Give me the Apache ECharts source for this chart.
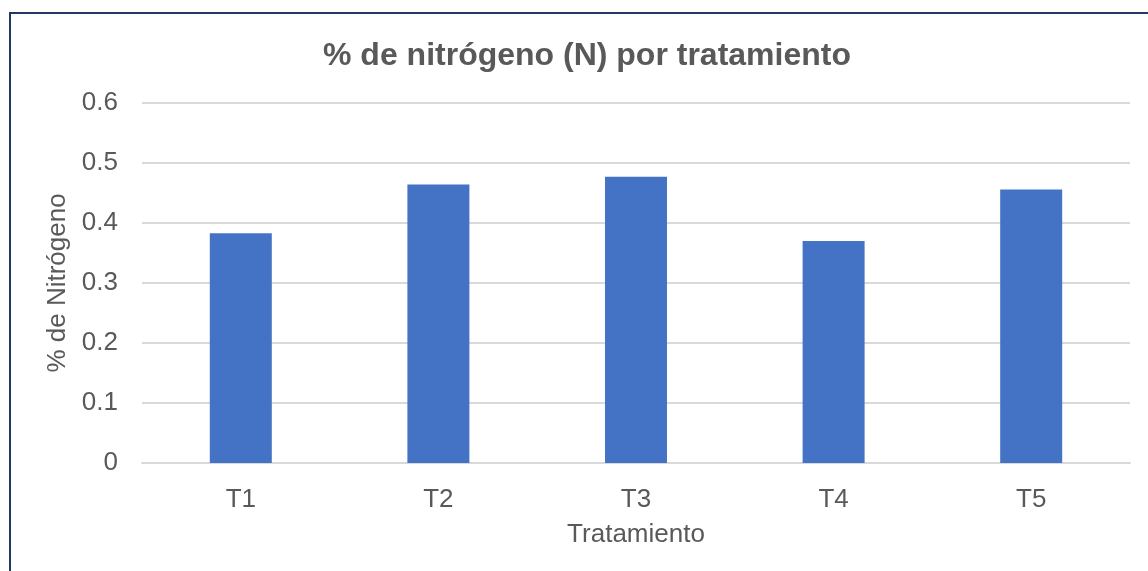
<!DOCTYPE html>
<html>
<head>
<meta charset="utf-8">
<script src="https://cdn.jsdelivr.net/npm/echarts@6/dist/echarts.min.js"></script>
<style>
  html, body { margin: 0; padding: 0; background: #fff; }
  #chart { width: 1148px; height: 571px; position: relative; }
  #frame { position: absolute; left: 9px; top: 12px; width: 1200px; height: 600px;
           border-left: 2px solid #1f3864; border-top: 2px solid #1f3864; pointer-events: none; }
</style>
</head>
<body>
<div id="chart"></div>
<div id="frame"></div>
<script>
// ---- data ----
const tratamientos = ['T1', 'T2', 'T3', 'T4', 'T5']
const nitrogeno = [0.383, 0.464, 0.477, 0.37, 0.456]
const yTicks = [0, 0.1, 0.2, 0.3, 0.4, 0.5, 0.6]

const chartDom = document.getElementById('chart')
const myChart = echarts.init(chartDom)
const fontFam = 'Liberation Sans, Arial, sans-serif'

const option = {
  animation: false,
  title: {
    text: '% de nitrógeno (N) por tratamiento',
    left: 582,
    textAlign: 'center',
    top: 35,
    textStyle: {
      fontFamily: fontFam,
      fontSize: 32,
      fontWeight: 'bold',
      color: '#595959'
    }
  },
  grid: {
    left: 142,
    right: 18,
    top: 103,
    bottom: 108
  },
  xAxis: {
    type: 'category',
    data: tratamientos,
    name: 'Tratamiento',
    nameLocation: 'middle',
    nameGap: 59,
    nameTextStyle: { fontFamily: fontFam, fontSize: 26, color: '#595959' },
    axisLine: { lineStyle: { color: '#d9d9d9', width: 2 } },
    axisTick: { show: false },
    axisLabel: {
      fontFamily: fontFam,
      fontSize: 26,
      color: '#595959',
      margin: 24
    }
  },
  yAxis: {
    type: 'value',
    min: yTicks[0],
    max: yTicks[yTicks.length - 1],
    interval: 0.1,
    name: '% de Nitrógeno',
    nameLocation: 'middle',
    nameGap: 70,
    nameTextStyle: { fontFamily: fontFam, fontSize: 26, color: '#595959' },
    axisLine: { show: false },
    axisTick: { show: false },
    axisLabel: {
      fontFamily: fontFam,
      fontSize: 26,
      color: '#595959',
      margin: 24,
      padding: [3, 0, 0, 0],
      formatter: (v) => (v === 0 ? '0' : v.toFixed(1))
    },
    splitLine: { lineStyle: { color: '#d9d9d9', width: 2 } }
  },
  series: [
    {
      type: 'bar',
      data: nitrogeno,
      barWidth: 62,
      itemStyle: { color: '#4472c4' }
    }
  ]
}

myChart.setOption(option)
</script>
</body>
</html>
